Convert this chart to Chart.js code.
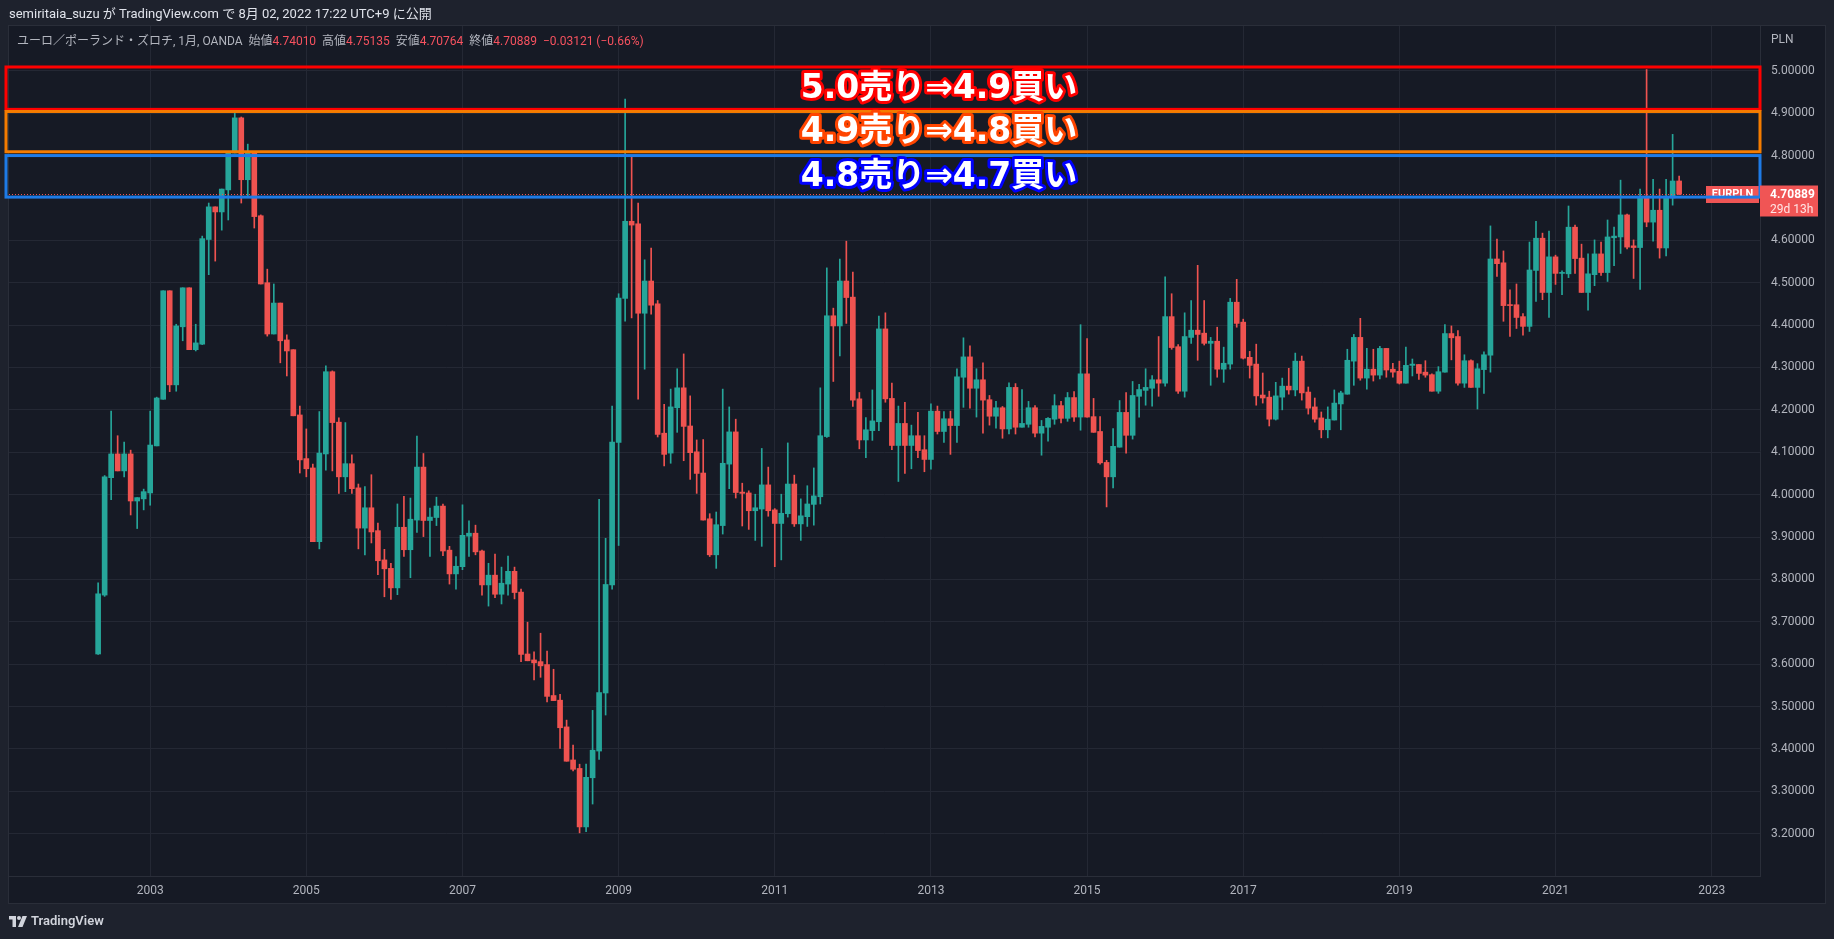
<!DOCTYPE html>
<html>
<head>
<meta charset="utf-8">
<script src="https://cdn.jsdelivr.net/npm/chart.js@4.4.0/dist/chart.umd.min.js"></script>
<style>
  html, body { margin: 0; padding: 0; width: 1834px; height: 939px; overflow: hidden; background: #1e222d; font-family: Roboto, "Noto Sans CJK JP", sans-serif; }
  #panel { position: absolute; left: 8px; top: 25px; width: 1818px; height: 879px; background: #161a25; border: 1px solid #2a2e39; box-sizing: border-box; }
  #chart { position: absolute; left: 0; top: 0; }
  .txt { position: absolute; white-space: pre; }
  #header { left: 9px; top: 5px; font-size: 13px; line-height: 17px; color: #e0e3eb; }
  #legend { left: 17px; top: 33px; font-size: 12px; line-height: 16px; color: #b2b5be; }
  #legend .v { color: #f7525f; }
  #unit { left: 1771px; top: 31px; font-size: 12px; line-height: 16px; color: #b2b5be; }
  #footer { left: 9px; top: 912px; font-size: 13px; line-height: 18px; color: #d1d4dc; font-weight: 600; display: flex; align-items: center; gap: 4px; }
</style>
</head>
<body>
<div id="panel"></div>
<canvas id="chart" width="1834" height="939"></canvas>
<div id="header" class="txt">semiritaia_suzu が TradingView.com で 8月 02, 2022 17:22 UTC+9 に公開</div>
<div id="legend" class="txt">ユーロ／ポーランド・ズロチ, 1月, OANDA  始値<span class="v">4.74010</span>  高値<span class="v">4.75135</span>  安値<span class="v">4.70764</span>  終値<span class="v">4.70889</span>  <span class="v">−0.03121 (−0.66%)</span></div>
<div id="unit" class="txt">PLN</div>
<div id="footer" class="txt"><svg width="18" height="11" viewBox="0 0 36 22"><path fill="#d1d4dc" d="M0 0h14v22H7V7H0z"/><circle fill="#d1d4dc" cx="20" cy="4" r="4"/><path fill="#d1d4dc" d="M27 0h9l-9 22h-9z"/></svg><span>TradingView</span></div>
<script>
// EUR/PLN monthly candles, first bar = May 2002 (index -8 from Jan 2003)
const firstMonthIndex = -8;

const opens = [
  3.624, 3.763, 4.040, 4.096, 4.056, 4.096, 3.985, 3.990, 4.004, 4.115,
  4.225, 4.481, 4.259, 4.396, 4.488, 4.342, 4.355, 4.602, 4.679, 4.667,
  4.719, 4.806, 4.889, 4.743, 4.806, 4.658, 4.500, 4.379, 4.452, 4.365,
  4.342, 4.188, 4.085, 4.063, 3.889, 4.096, 4.290, 4.171, 4.042, 4.073,
  4.016, 3.921, 3.969, 3.915, 3.846, 3.826, 3.780, 3.923, 3.870, 3.940,
  4.065, 3.939, 3.946, 3.973, 3.869, 3.813, 3.830, 3.902, 3.909, 3.867,
  3.787, 3.810, 3.765, 3.789, 3.819, 3.770, 3.624, 3.610, 3.606, 3.599,
  3.526, 3.515, 3.452, 3.374, 3.354, 3.216, 3.332, 3.395, 3.532, 3.787,
  4.123, 4.463, 4.645, 4.639, 4.428, 4.504, 4.450, 4.145, 4.098, 4.205,
  4.252, 4.162, 4.101, 4.051, 3.943, 3.858, 3.927, 4.072, 4.148, 4.006,
  4.004, 3.962, 3.966, 4.023, 3.964, 3.932, 3.955, 4.025, 3.931, 3.948,
  3.977, 3.995, 4.137, 4.422, 4.398, 4.504, 4.466, 4.226, 4.129, 4.151,
  4.172, 4.391, 4.227, 4.116, 4.168, 4.116, 4.139, 4.106, 4.083, 4.197,
  4.149, 4.179, 4.163, 4.277, 4.325, 4.251, 4.271, 4.224, 4.185, 4.205,
  4.155, 4.253, 4.159, 4.166, 4.205, 4.145, 4.159, 4.178, 4.210, 4.180,
  4.229, 4.183, 4.285, 4.184, 4.149, 4.076, 4.042, 4.112, 4.194, 4.140,
  4.232, 4.246, 4.251, 4.271, 4.263, 4.420, 4.349, 4.244, 4.371, 4.388,
  4.381, 4.357, 4.362, 4.296, 4.308, 4.454, 4.407, 4.324, 4.308, 4.235,
  4.230, 4.178, 4.230, 4.256, 4.247, 4.315, 4.242, 4.207, 4.181, 4.153,
  4.176, 4.214, 4.237, 4.315, 4.371, 4.275, 4.296, 4.282, 4.345, 4.296,
  4.291, 4.263, 4.305, 4.307, 4.289, 4.283, 4.244, 4.289, 4.380, 4.373,
  4.263, 4.316, 4.253, 4.295, 4.329, 4.556, 4.547, 4.448, 4.448, 4.420,
  4.397, 4.529, 4.605, 4.477, 4.561, 4.522, 4.521, 4.631, 4.558, 4.477,
  4.519, 4.568, 4.524, 4.606, 4.608, 4.660, 4.587, 4.583, 4.704, 4.643,
  4.671, 4.582, 4.700, 4.74010
];
const highs = [
  3.792, 4.045, 4.197, 4.139, 4.124, 4.105, 3.993, 4.013, 4.197, 4.230,
  4.481, 4.481, 4.402, 4.488, 4.488, 4.402, 4.610, 4.688, 4.679, 4.721,
  4.810, 4.900, 4.891, 4.827, 4.810, 4.660, 4.532, 4.497, 4.452, 4.377,
  4.342, 4.209, 4.155, 4.072, 4.196, 4.304, 4.292, 4.181, 4.170, 4.094,
  4.025, 4.019, 4.047, 3.933, 3.871, 3.838, 3.978, 3.996, 3.992, 4.138,
  4.097, 3.968, 3.994, 3.978, 3.878, 3.854, 3.976, 3.938, 3.928, 3.869,
  3.838, 3.860, 3.829, 3.855, 3.829, 3.777, 3.699, 3.629, 3.673, 3.631,
  3.588, 3.529, 3.468, 3.409, 3.364, 3.364, 3.491, 3.989, 3.897, 4.209,
  4.474, 4.933, 4.796, 4.688, 4.554, 4.582, 4.458, 4.213, 4.249, 4.297,
  4.332, 4.233, 4.129, 4.130, 3.955, 3.959, 4.249, 4.207, 4.178, 4.027,
  4.009, 4.001, 4.109, 4.065, 3.967, 4.001, 4.122, 4.046, 3.990, 4.021,
  4.063, 4.252, 4.535, 4.440, 4.556, 4.598, 4.525, 4.241, 4.182, 4.247,
  4.421, 4.429, 4.263, 4.209, 4.218, 4.164, 4.194, 4.139, 4.214, 4.209,
  4.196, 4.197, 4.297, 4.370, 4.351, 4.297, 4.311, 4.234, 4.220, 4.208,
  4.264, 4.262, 4.248, 4.220, 4.210, 4.175, 4.182, 4.236, 4.220, 4.241,
  4.243, 4.401, 4.368, 4.227, 4.184, 4.081, 4.156, 4.222, 4.241, 4.267,
  4.260, 4.297, 4.281, 4.373, 4.514, 4.474, 4.354, 4.429, 4.458, 4.541,
  4.458, 4.371, 4.395, 4.348, 4.463, 4.508, 4.414, 4.338, 4.355, 4.287,
  4.244, 4.265, 4.275, 4.298, 4.334, 4.327, 4.254, 4.228, 4.195, 4.207,
  4.247, 4.244, 4.343, 4.378, 4.416, 4.345, 4.343, 4.350, 4.345, 4.310,
  4.315, 4.348, 4.320, 4.307, 4.316, 4.285, 4.302, 4.401, 4.398, 4.387,
  4.330, 4.318, 4.309, 4.337, 4.634, 4.603, 4.575, 4.483, 4.497, 4.427,
  4.596, 4.645, 4.617, 4.622, 4.565, 4.528, 4.681, 4.636, 4.591, 4.568,
  4.601, 4.596, 4.648, 4.631, 4.742, 4.662, 4.601, 4.721, 5.003, 4.744,
  4.721, 4.744, 4.850, 4.75135
];
const lows = [
  3.623, 3.760, 3.988, 4.056, 4.042, 3.952, 3.920, 3.964, 3.975, 4.115,
  4.225, 4.243, 4.244, 4.363, 4.342, 4.339, 4.354, 4.519, 4.551, 4.624,
  4.648, 4.806, 4.688, 4.702, 4.629, 4.497, 4.374, 4.379, 4.311, 4.280,
  4.186, 4.051, 4.042, 3.889, 3.872, 4.058, 4.056, 4.003, 4.007, 4.003,
  3.872, 3.858, 3.886, 3.811, 3.759, 3.753, 3.764, 3.854, 3.804, 3.911,
  3.901, 3.854, 3.927, 3.856, 3.789, 3.777, 3.823, 3.854, 3.858, 3.763,
  3.737, 3.757, 3.742, 3.763, 3.754, 3.606, 3.608, 3.563, 3.569, 3.511,
  3.514, 3.401, 3.371, 3.348, 3.202, 3.205, 3.270, 3.375, 3.480, 3.777,
  3.880, 4.409, 4.417, 4.225, 4.296, 4.426, 4.136, 4.068, 4.074, 4.147,
  4.080, 4.036, 4.003, 3.940, 3.854, 3.826, 3.907, 4.014, 3.992, 3.926,
  3.918, 3.892, 3.878, 3.949, 3.830, 3.846, 3.947, 3.925, 3.892, 3.925,
  3.928, 3.978, 4.135, 4.267, 4.327, 4.404, 4.208, 4.108, 4.087, 4.128,
  4.151, 4.218, 4.106, 4.031, 4.050, 4.061, 4.087, 4.054, 4.060, 4.143,
  4.123, 4.095, 4.123, 4.206, 4.204, 4.183, 4.145, 4.164, 4.157, 4.133,
  4.143, 4.143, 4.159, 4.159, 4.136, 4.093, 4.126, 4.166, 4.169, 4.173,
  4.173, 4.152, 4.183, 4.147, 4.072, 3.971, 4.016, 4.112, 4.098, 4.131,
  4.183, 4.211, 4.209, 4.232, 4.256, 4.343, 4.239, 4.230, 4.357, 4.317,
  4.353, 4.258, 4.277, 4.265, 4.296, 4.395, 4.320, 4.275, 4.211, 4.216,
  4.162, 4.176, 4.200, 4.237, 4.233, 4.223, 4.190, 4.171, 4.134, 4.134,
  4.176, 4.153, 4.237, 4.258, 4.270, 4.249, 4.268, 4.273, 4.277, 4.277,
  4.261, 4.263, 4.280, 4.272, 4.277, 4.244, 4.239, 4.289, 4.318, 4.258,
  4.253, 4.253, 4.202, 4.239, 4.289, 4.515, 4.409, 4.373, 4.392, 4.376,
  4.385, 4.456, 4.460, 4.418, 4.496, 4.472, 4.512, 4.522, 4.477, 4.435,
  4.493, 4.517, 4.503, 4.540, 4.569, 4.580, 4.510, 4.484, 4.632, 4.598,
  4.558, 4.563, 4.683, 4.70764
];
const closes = [
  3.766, 4.042, 4.096, 4.056, 4.096, 3.985, 3.993, 4.007, 4.117, 4.228,
  4.481, 4.259, 4.398, 4.488, 4.342, 4.358, 4.604, 4.679, 4.667, 4.721,
  4.806, 4.889, 4.743, 4.806, 4.656, 4.497, 4.379, 4.452, 4.363, 4.339,
  4.186, 4.082, 4.061, 3.889, 4.098, 4.290, 4.170, 4.042, 4.073, 4.014,
  3.921, 3.969, 3.912, 3.844, 3.825, 3.780, 3.923, 3.870, 3.942, 4.065,
  3.939, 3.947, 3.973, 3.867, 3.813, 3.831, 3.904, 3.909, 3.865, 3.787,
  3.810, 3.765, 3.791, 3.819, 3.769, 3.623, 3.608, 3.603, 3.596, 3.524,
  3.514, 3.450, 3.371, 3.352, 3.216, 3.333, 3.397, 3.533, 3.788, 4.124,
  4.464, 4.645, 4.636, 4.428, 4.504, 4.447, 4.142, 4.095, 4.207, 4.252,
  4.161, 4.099, 4.050, 3.940, 3.858, 3.929, 4.074, 4.148, 4.005, 4.003,
  3.962, 3.969, 4.023, 3.962, 3.932, 3.956, 4.025, 3.931, 3.950, 3.978,
  3.997, 4.139, 4.422, 4.398, 4.504, 4.465, 4.223, 4.129, 4.153, 4.174,
  4.391, 4.226, 4.116, 4.168, 4.116, 4.139, 4.104, 4.083, 4.197, 4.149,
  4.179, 4.163, 4.278, 4.325, 4.251, 4.271, 4.223, 4.185, 4.205, 4.155,
  4.253, 4.159, 4.168, 4.205, 4.145, 4.161, 4.180, 4.210, 4.180, 4.229,
  4.183, 4.285, 4.183, 4.147, 4.075, 4.042, 4.114, 4.194, 4.140, 4.234,
  4.248, 4.253, 4.271, 4.263, 4.420, 4.347, 4.244, 4.373, 4.388, 4.378,
  4.357, 4.362, 4.296, 4.310, 4.454, 4.404, 4.322, 4.305, 4.233, 4.228,
  4.178, 4.233, 4.256, 4.247, 4.315, 4.240, 4.204, 4.178, 4.153, 4.178,
  4.216, 4.240, 4.317, 4.371, 4.275, 4.296, 4.282, 4.345, 4.294, 4.289,
  4.263, 4.305, 4.308, 4.286, 4.282, 4.244, 4.290, 4.380, 4.370, 4.263,
  4.316, 4.253, 4.297, 4.330, 4.556, 4.545, 4.446, 4.446, 4.418, 4.397,
  4.530, 4.605, 4.477, 4.561, 4.522, 4.523, 4.631, 4.557, 4.477, 4.521,
  4.568, 4.524, 4.608, 4.610, 4.660, 4.584, 4.583, 4.704, 4.643, 4.671,
  4.582, 4.700, 4.740, 4.70889
];

// axis labels
const yearTicks = [2003, 2005, 2007, 2009, 2011, 2013, 2015, 2017, 2019, 2021, 2023];
const priceTicks = [5.0, 4.9, 4.8, 4.7, 4.6, 4.5, 4.4, 4.3, 4.2, 4.1, 4.0, 3.9, 3.8, 3.7, 3.6, 3.5, 3.4, 3.3, 3.2];

// drawn zones: top / bottom price and caption
const zoneTops = [5.009, 4.904, 4.800];
const zoneBottoms = [4.909, 4.809, 4.702];
const zoneTexts = ['5.0売り⇒4.9買い', '4.9売り⇒4.8買い', '4.8売り⇒4.7買い'];

const symbolName = 'EURPLN';
const timeLeft = '29d 13h';

const UP = '#26a69a';
const DOWN = '#ef5350';

const colors = opens.map((o, i) => closes[i] >= o ? UP : DOWN);
const wickData = opens.map((o, i) => ({ x: i + firstMonthIndex, y: [lows[i], highs[i]] }));
const bodyData = opens.map((o, i) => ({ x: i + firstMonthIndex, y: [o, closes[i]] }));

// draws the zones, captions, the last price line and its labels
const overlayPlugin = {
  id: 'overlay',
  afterDatasetsDraw(chart, args, opts) {
    const { ctx, chartArea: a, scales: { y } } = chart;
    const last = closes[closes.length - 1];
    const yl = Math.round(y.getPixelForValue(last)) + 0.5;
    ctx.save();

    // dotted last price line
    ctx.strokeStyle = DOWN;
    ctx.lineWidth = 1;
    ctx.setLineDash([1, 2]);
    ctx.beginPath();
    ctx.moveTo(a.left, yl);
    ctx.lineTo(a.right, yl);
    ctx.stroke();
    ctx.setLineDash([]);

    // symbol tag at the right edge of the plot
    ctx.fillStyle = opts.tagColor;
    ctx.fillRect(a.right - 54, yl - 8.5, 53, 17);
    ctx.fillStyle = '#ffffff';
    ctx.font = 'bold 11px Roboto';
    ctx.textAlign = 'center';
    ctx.textBaseline = 'middle';
    ctx.fillText(symbolName, a.right - 27.5, yl);

    // zone rectangles
    zoneTops.forEach((top, i) => {
      const y1 = y.getPixelForValue(top);
      const y2 = y.getPixelForValue(zoneBottoms[i]);
      ctx.strokeStyle = opts.boxColors[i];
      ctx.lineWidth = opts.boxWidths[i];
      ctx.strokeRect(opts.boxLeft, y1, a.right - opts.boxLeft, y2 - y1);
    });

    // captions
    ctx.font = 'bold 33px "DejaVu Sans", "Noto Sans CJK JP"';
    ctx.textAlign = 'center';
    ctx.textBaseline = 'middle';
    ctx.lineJoin = 'round';
    zoneTexts.forEach((t, i) => {
      const yc = y.getPixelForValue((zoneTops[i] + zoneBottoms[i]) / 2) + 1;
      ctx.strokeStyle = opts.textStroke[i];
      ctx.lineWidth = 6;
      ctx.strokeText(t, opts.textX, yc);
      ctx.fillStyle = '#ffffff';
      ctx.fillText(t, opts.textX, yc);
    });

    // price label on the axis
    ctx.fillStyle = opts.tagColor;
    ctx.fillRect(a.right, yl - 9, 58, 31);
    ctx.fillStyle = '#ffffff';
    ctx.textAlign = 'left';
    ctx.font = 'bold 12px Roboto';
    ctx.fillText(last.toFixed(5), a.right + 10, yl);
    ctx.font = '12px Roboto';
    ctx.fillStyle = '#ffe5e5';
    ctx.fillText(timeLeft, a.right + 10, yl + 15);
    ctx.restore();
  }
};

Chart.defaults.font.family = 'Roboto';
Chart.defaults.font.size = 12;
Chart.defaults.color = '#b2b5be';

const ctx = document.getElementById('chart').getContext('2d');
new Chart(ctx, {
  type: 'bar',
  data: {
    datasets: [
      { label: 'wick', data: wickData, backgroundColor: colors, barThickness: 1, grouped: false, order: 2 },
      { label: 'body', data: bodyData, backgroundColor: colors, barThickness: 5, minBarLength: 1, grouped: false, order: 1 }
    ]
  },
  options: {
    responsive: false,
    animation: false,
    devicePixelRatio: 1,
    layout: { padding: { left: 9, top: 26, right: 9, bottom: 36 } },
    scales: {
      x: {
        type: 'linear',
        offset: false,
        min: -21.70,
        max: 247.43,
        grid: { color: '#242834', drawTicks: false, offset: false },
        border: { color: '#2a2e39' },
        ticks: { padding: 8, autoSkip: false, maxRotation: 0, callback: v => String(2003 + Math.round(v / 12)) },
        afterBuildTicks: s => { s.ticks = yearTicks.map(yr => ({ value: (yr - 2003) * 12 })); },
        afterFit: s => { s.height = 27; }
      },
      y: {
        position: 'right',
        min: 3.1002,
        max: 5.1057,
        grid: { color: '#242834', drawTicks: false },
        border: { color: '#2a2e39' },
        ticks: { padding: 11, autoSkip: false, callback: v => v.toFixed(5) },
        afterBuildTicks: s => { s.ticks = priceTicks.map(v => ({ value: v })); },
        afterFit: s => { s.width = 65; }
      }
    },
    plugins: {
      legend: { display: false },
      tooltip: { enabled: false },
      overlay: {
        tagColor: '#f05555',
        boxLeft: 6,
        boxColors: ['#ff0000', '#f57c00', '#1e7be6'],
        boxWidths: [3, 3, 3],
        textStroke: ['#ff0000', '#ff4500', '#0000ff'],
        textX: 939
      }
    }
  },
  plugins: [overlayPlugin]
});
</script>
</body>
</html>
